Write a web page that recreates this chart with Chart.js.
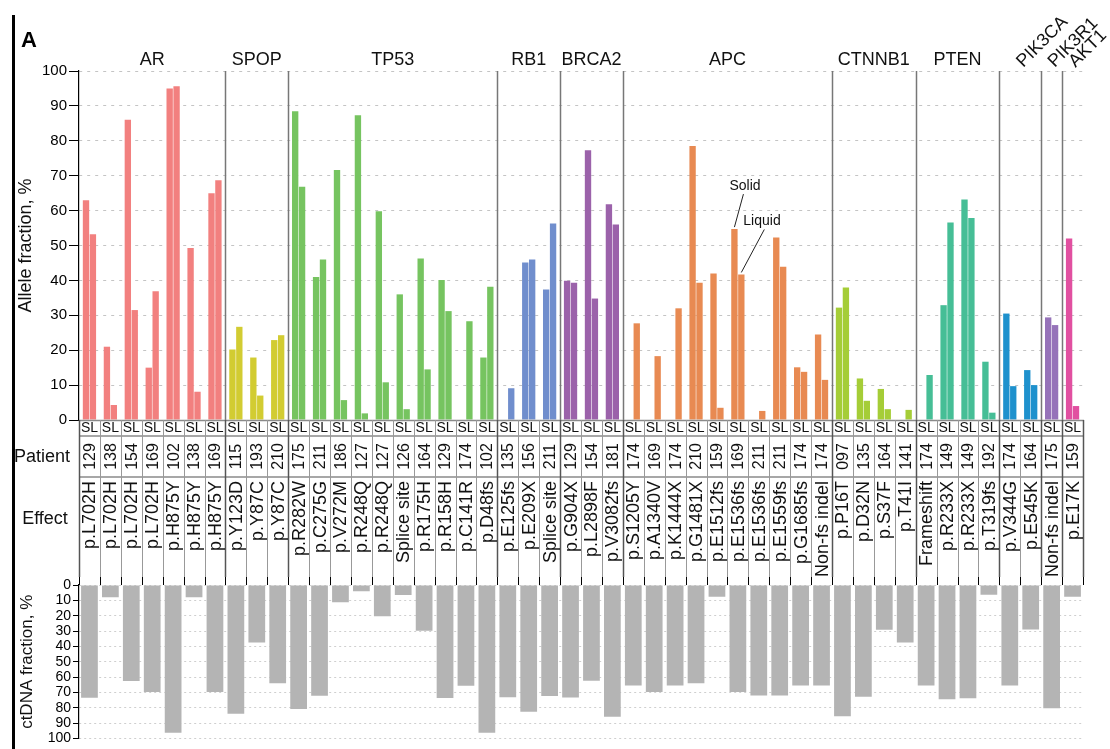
<!DOCTYPE html>
<html lang="en">
<head>
<meta charset="UTF-8">
<title>Allele fraction, solid vs liquid</title>
<style>
  body { margin: 0; background: #fff; }
  #wrap { position: relative; width: 1110px; height: 749px; }
  #wrap canvas { position: absolute; left: 0; top: 0; }
</style>
</head>
<body>
<script src="https://cdn.jsdelivr.net/npm/chart.js@4.4.0/dist/chart.umd.min.js"></script>
<div id="wrap">
  <canvas id="top" width="1110" height="749"></canvas>
  <canvas id="bottom" width="1110" height="749"></canvas>
</div>
<script>
const genes = ['AR', 'SPOP', 'TP53', 'RB1', 'BRCA2', 'APC', 'CTNNB1', 'PTEN', 'PIK3CA', 'PIK3R1', 'AKT1'];
const geneCounts = [7, 3, 10, 3, 3, 10, 4, 4, 2, 1, 1];
const geneColors = ['#f2807f', '#d2cc32', '#76c460', '#708ecd', '#9b62aa', '#e88a52',
                    '#a5cd37', '#46be96', '#1e91cd', '#9673b9', '#e150a0'];
const rotatedGenes = ['PIK3CA', 'PIK3R1', 'AKT1'];

const patients = ['129', '138', '154', '169', '102', '138', '169',
                  '115', '193', '210',
                  '175', '211', '186', '127', '127', '126', '164', '129', '174', '102',
                  '135', '156', '211',
                  '129', '154', '181',
                  '174', '169', '174', '210', '159', '169', '211', '211', '174', '174',
                  '097', '135', '164', '141',
                  '174', '149', '149', '192',
                  '174', '164',
                  '175',
                  '159'];
const effects = ['p.L702H', 'p.L702H', 'p.L702H', 'p.L702H', 'p.H875Y', 'p.H875Y', 'p.H875Y',
                 'p.Y123D', 'p.Y87C', 'p.Y87C',
                 'p.R282W', 'p.C275G', 'p.V272M', 'p.R248Q', 'p.R248Q', 'Splice site', 'p.R175H', 'p.R158H', 'p.C141R', 'p.D48fs',
                 'p.E125fs', 'p.E209X', 'Splice site',
                 'p.G904X', 'p.L2898F', 'p.V3082fs',
                 'p.S1205Y', 'p.A1340V', 'p.K1444X', 'p.G1481X', 'p.E1512fs', 'p.E1536fs', 'p.E1536fs', 'p.E1559fs', 'p.G1685fs', 'Non-fs indel',
                 'p.P16T', 'p.D32N', 'p.S37F', 'p.T41I',
                 'Frameshift', 'p.R233X', 'p.R233X', 'p.T319fs',
                 'p.V344G', 'p.E545K',
                 'Non-fs indel',
                 'p.E17K'];

// allele fraction, % (S = solid, L = liquid)
const solid = [63, 21, 86, 15, 95, 49.3, 65,
               20.2, 17.9, 22.9,
               88.5, 41, 71.6, 87.3, 59.8, 36, 46.3, 40.1, null, 17.9,
               null, 45.1, 37.4,
               39.9, 77.3, 61.8,
               null, null, null, 78.5, 42, 54.7, null, 52.3, 15.1, 24.5,
               32.2, 11.9, 8.9, null,
               null, 32.9, 63.2, 16.7,
               30.5, 14.3,
               29.4,
               52];
const liquid = [53.2, 4.3, 31.5, 36.9, 95.6, 8.1, 68.7,
                26.7, 7, 24.3,
                66.8, 46, 5.7, 1.9, 10.8, 3.1, 14.5, 31.2, 28.3, 38.2,
                9.1, 46, 56.3,
                39.3, 34.8, 56,
                27.7, 18.3, 32, 39.3, 3.5, 41.7, 2.6, 43.9, 13.8, 11.5,
                38, 5.5, 3.1, 2.9,
                12.9, 56.6, 57.9, 2.1,
                9.7, 10,
                27.2,
                4];
// ctDNA fraction, %
const ctdna = [73.4, 8, 62.5, 69.6, 96.2, 8, 69.6,
               83.9, 37.5, 63.9,
               80.7, 72.1, 11.3, 4, 20.3, 6.5, 29.8, 73.6, 65.6, 96.2,
               73, 82.6, 72.3,
               73.3, 62.3, 85.8,
               65.4, 69.6, 65.4, 64, 7.7, 69.6, 71.9, 71.9, 65.4, 65.4,
               85.4, 72.7, 29.2, 37.5,
               65.4, 74.4, 73.8, 6.3,
               65.4, 29,
               80.2,
               7.7];
const annotatedColumn = 31; // APC p.E1536fs, patient 169

Chart.defaults.font.family = "'Liberation Sans', Arial, Helvetica, sans-serif";
Chart.defaults.color = '#111';

const labels = patients.map((p, i) => p + ' ' + effects[i]);
const colColors = [];
genes.forEach((g, i) => {
    for (let k = 0; k < geneCounts[i]; k++) colColors.push(geneColors[i]);
});
const groupEnds = [];
geneCounts.reduce((acc, c) => { groupEnds.push(acc + c); return acc + c; }, 0);

const tableAndLabels = {
    id: 'tableAndLabels',
    afterDraw(chart) {
        const ctx = chart.ctx;
        const ca = chart.chartArea;
        const xs = chart.scales.x;
        const n = patients.length;
        const w = (ca.right - ca.left) / n;
        const edge = i => ca.left + i * w;
        const font = size => size + "px 'Liberation Sans', Arial, sans-serif";
        ctx.save();

        // panel border and letter
        ctx.strokeStyle = '#000';
        ctx.lineWidth = 3;
        ctx.beginPath(); ctx.moveTo(13.5, 15); ctx.lineTo(13.5, 749); ctx.stroke();
        ctx.fillStyle = '#000';
        ctx.font = 'bold 22px ' + "'Liberation Sans', Arial, sans-serif";
        ctx.textAlign = 'left'; ctx.textBaseline = 'middle';
        ctx.fillText('A', 21, 41);

        // gene separators
        ctx.strokeStyle = '#777';
        ctx.lineWidth = 1.5;
        groupEnds.slice(0, -1).forEach(e => {
            const x = Math.round(edge(e)) + 0.5;
            ctx.beginPath(); ctx.moveTo(x, ca.top); ctx.lineTo(x, ca.bottom); ctx.stroke();
        });

        // gene labels
        ctx.fillStyle = '#111';
        ctx.font = font(18);
        let start = 0;
        genes.forEach((g, i) => {
            const end = groupEnds[i];
            const cx = (edge(start) + edge(end)) / 2;
            if (rotatedGenes.includes(g)) {
                ctx.save();
                ctx.translate(cx + 3, 68);
                ctx.rotate(-Math.PI / 4);
                ctx.textAlign = 'left'; ctx.textBaseline = 'alphabetic';
                ctx.fillText(g, 0, 0);
                ctx.restore();
            } else {
                ctx.textAlign = 'center'; ctx.textBaseline = 'middle';
                ctx.fillText(g, cx, 60);
            }
            start = end;
        });

        // table grid
        const yTop = ca.bottom, ySL = 436, yPat = 477, yEff = 577, yTick = 585;
        ctx.strokeStyle = '#8a8a8a';
        ctx.lineWidth = 1.5;
        [yTop + 0.5, ySL, yPat].forEach(y => {
            ctx.beginPath(); ctx.moveTo(ca.left, y); ctx.lineTo(ca.right + 1, y); ctx.stroke();
        });
        for (let i = 0; i <= n; i++) {
            const x = Math.round(edge(i)) + 0.5;
            const isGroup = i === 0 || i === n || groupEnds.includes(i);
            ctx.strokeStyle = isGroup ? '#555' : '#999';
            ctx.lineWidth = isGroup ? 1.5 : 1;
            ctx.beginPath(); ctx.moveTo(x, yTop); ctx.lineTo(x, yEff); ctx.stroke();
            ctx.strokeStyle = '#000';
            ctx.lineWidth = 1;
            ctx.beginPath(); ctx.moveTo(x, yEff); ctx.lineTo(x, yTick); ctx.stroke();
        }

        // table texts
        ctx.fillStyle = '#111';
        for (let i = 0; i < n; i++) {
            const cx = xs.getPixelForValue(i);
            ctx.font = font(14);
            ctx.textAlign = 'center'; ctx.textBaseline = 'middle';
            ctx.fillText('SL', cx, 428.5);

            ctx.save();
            ctx.translate(cx, 456.5);
            ctx.rotate(-Math.PI / 2);
            ctx.font = font(16);
            ctx.fillText(patients[i], 0, 1);
            ctx.restore();

            ctx.save();
            ctx.translate(cx, 481);
            ctx.rotate(-Math.PI / 2);
            ctx.font = font(18);
            ctx.textAlign = 'right';
            ctx.fillText(effects[i], 0, 1);
            ctx.restore();
        }
        ctx.font = font(18);
        ctx.textAlign = 'left'; ctx.textBaseline = 'middle';
        ctx.fillText('Patient', 14, 457);
        ctx.textAlign = 'center';
        ctx.fillText('Effect', 45, 519);

        // solid / liquid callouts
        const sBar = chart.getDatasetMeta(0).data[annotatedColumn];
        const lBar = chart.getDatasetMeta(1).data[annotatedColumn];
        ctx.font = font(14);
        ctx.textAlign = 'left';
        ctx.fillText('Solid', sBar.x - 5, sBar.y - 43);
        ctx.fillText('Liquid', lBar.x + 2, lBar.y - 53);
        ctx.strokeStyle = '#222';
        ctx.lineWidth = 1;
        ctx.beginPath();
        ctx.moveTo(sBar.x + 9, sBar.y - 35); ctx.lineTo(sBar.x, sBar.y - 2);
        ctx.moveTo(lBar.x + 23, lBar.y - 45); ctx.lineTo(lBar.x, lBar.y - 2);
        ctx.stroke();
        ctx.restore();
    }
};

new Chart(document.getElementById('top'), {
    type: 'bar',
    data: {
        labels: labels,
        datasets: [
            { label: 'Solid', data: solid, backgroundColor: colColors,
              categoryPercentage: 0.66, barPercentage: 0.92 },
            { label: 'Liquid', data: liquid, backgroundColor: colColors,
              categoryPercentage: 0.66, barPercentage: 0.92 }
        ]
    },
    options: {
        responsive: false,
        animation: false,
        events: [],
        layout: { padding: { left: 0, right: 27, top: 71, bottom: 749 - 420 } },
        plugins: { legend: { display: false }, tooltip: { enabled: false } },
        scales: {
            x: { display: false },
            y: {
                min: 0, max: 100,
                ticks: { stepSize: 10, font: { size: 15 }, color: '#000', padding: 2, autoSkip: false },
                grid: { color: '#c4c4c4', tickColor: '#000', tickLength: 10 },
                border: { color: '#000', width: 1.2, dash: [3, 5] },
                title: { display: true, text: 'Allele fraction, %', font: { size: 18 }, color: '#111', padding: { top: 15 } },
                afterFit(scale) { scale.width = 79; }
            }
        }
    },
    plugins: [tableAndLabels]
});

new Chart(document.getElementById('bottom'), {
    type: 'bar',
    data: {
        labels: labels,
        datasets: [{ label: 'ctDNA fraction', data: ctdna, backgroundColor: '#b4b4b4',
                     categoryPercentage: 1, barPercentage: 0.8 }]
    },
    options: {
        responsive: false,
        animation: false,
        events: [],
        layout: { padding: { left: 0, right: 27, top: 585, bottom: 6 } },
        plugins: { legend: { display: false }, tooltip: { enabled: false } },
        scales: {
            x: { display: false },
            y: {
                reverse: true, min: 0, max: 100,
                ticks: { stepSize: 10, font: { size: 14 }, color: '#000', padding: 2, autoSkip: false },
                grid: { color: '#cfcfcf', tickColor: '#000', tickLength: 6 },
                border: { color: '#000', width: 1.2, dash: [2, 3] },
                title: { display: true, text: 'ctDNA fraction, %', font: { size: 17 }, color: '#111', padding: { top: 17 } },
                afterFit(scale) { scale.width = 79; }
            }
        }
    }
});
</script>
</body>
</html>
